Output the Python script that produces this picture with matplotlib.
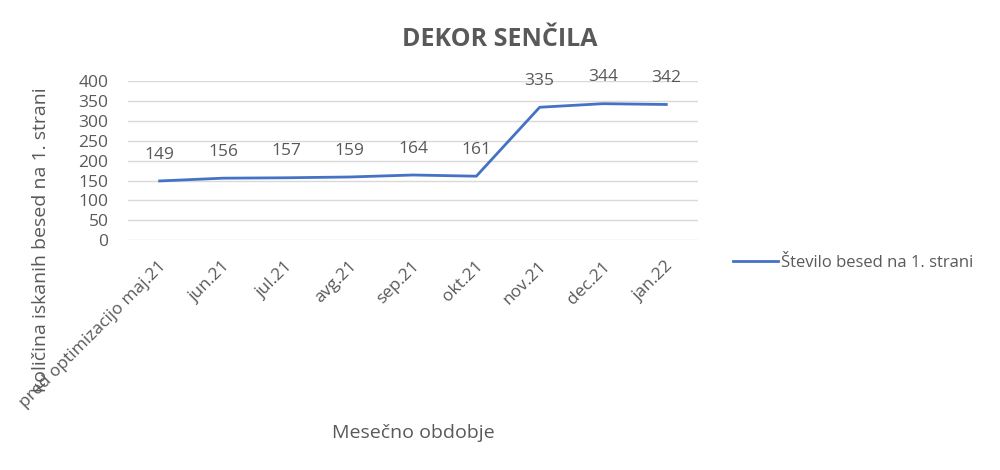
import matplotlib
matplotlib.use("Agg")
import matplotlib.pyplot as plt
import matplotlib.transforms as mtransforms

categories = ["pred optimizacijo maj.21", "jun.21", "jul.21", "avg.21", "sep.21",
              "okt.21", "nov.21", "dec.21", "jan.22"]
values = [149, 156, 157, 159, 164, 161, 335, 344, 342]
series_name = "Število besed na 1. strani"
title = "DEKOR SENČILA"
xlabel = "Mesečno obdobje"
ylabel = "količina iskanih besed na 1. strani"
yticks = [0, 50, 100, 150, 200, 250, 300, 350, 400]

plt.rcParams['font.family'] = ['Open Sans', 'DejaVu Sans']
text_color = "#595959"
line_color = "#4472C4"
grid_color = "#D9D9D9"

fig = plt.figure(figsize=(10, 4.7), dpi=100)
ax = fig.add_axes([0.128, 0.4894, 0.57, 0.3372])

x = list(range(len(categories)))
line, = ax.plot(x, values, color=line_color, linewidth=2, label=series_name)

for xi, v in zip(x, values):
    ax.annotate(str(v), (xi, v), xytext=(0, 19), textcoords="offset points",
                ha="center", va="center", fontsize=12.5, color=text_color)

ax.set_xlim(-0.5, len(categories) - 0.5)
ax.set_ylim(0, 400)
ax.set_yticks(yticks)
ax.set_yticklabels([str(t) for t in yticks], fontsize=12.5, color=text_color)
ax.grid(axis="y", color=grid_color, linewidth=1)
ax.set_axisbelow(True)
for s in ax.spines.values():
    s.set_visible(False)
ax.tick_params(axis="both", length=0)
ax.tick_params(axis="y", pad=14)
ax.tick_params(axis="x", pad=0)

ax.set_xticks(x)
ax.set_xticklabels(categories, rotation=45, ha="right", va="center",
                   rotation_mode="anchor", fontsize=12.5, color=text_color)
offset = mtransforms.ScaledTranslation(4.5 / 100, -24 / 100, fig.dpi_scale_trans)
for lbl in ax.get_xticklabels():
    lbl.set_transform(lbl.get_transform() + offset)

fig.text(0.5, 0.916, title, ha="center", va="center", fontsize=18,
         fontweight="bold", color=text_color)
fig.text(0.413, 1 - 433 / 470, xlabel, ha="center", va="center", fontsize=14,
         color=text_color)
fig.text(0.041, 1 - 240 / 470, ylabel, ha="center", va="center", rotation=90,
         fontsize=14, color=text_color)

fig.legend(handles=[line], labels=[series_name], loc="center left",
           bbox_to_anchor=(0.718, 1 - 263 / 470), frameon=False, fontsize=12,
           labelcolor=text_color, handlelength=2.7, handletextpad=0.18)

fig.savefig("out.png", dpi=100, facecolor="white")
